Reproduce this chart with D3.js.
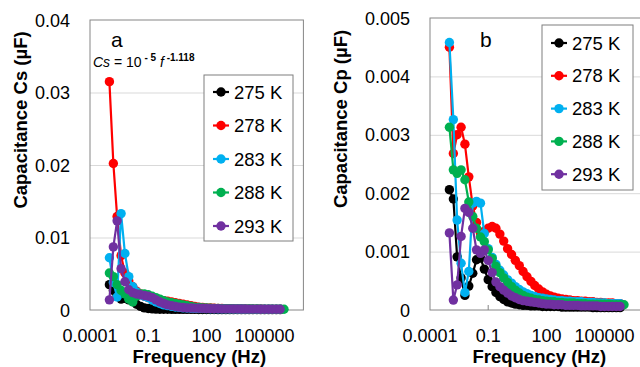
<!DOCTYPE html>
<html>
<head>
<meta charset="utf-8">
<script src="https://cdn.jsdelivr.net/npm/d3@7"></script>
<style>
  body { margin: 0; background: #fff; }
  svg text { font-family: "Liberation Sans", Arial, sans-serif; fill: #000; }
  .grid line { stroke: #d9d9d9; stroke-width: 1; }
  .grid .domain { display: none; }
</style>
</head>
<body>
<div id="chart"></div>
<script>
// measurement frequencies (Hz)
var freq = [0.001, 0.0016, 0.0025, 0.004, 0.0063, 0.01, 0.016, 0.025, 0.04, 0.063,
  0.1, 0.16, 0.25, 0.4, 0.63, 1, 1.6, 2.5, 4, 6.3,
  10, 16, 25, 40, 63, 100, 160, 250, 400, 630,
  1000, 1600, 2500, 4000, 6300, 10000, 16000, 25000, 40000, 63000,
  100000, 160000, 250000, 400000, 630000, 1000000];

var temps = ["275 K", "278 K", "283 K", "288 K", "293 K"];
var colors = ["#000000", "#ff0000", "#00b0f0", "#00b050", "#7030a0"];

var xTicks = [0.0001, 0.1, 100, 100000];
var xTickLabels = ["0.0001", "0.1", "100", "100000"];
var yTicksA = [0, 0.01, 0.02, 0.03, 0.04];
var yTickLabelsA = ["0", "0.01", "0.02", "0.03", "0.04"];
var yTicksB = [0, 0.001, 0.002, 0.003, 0.004, 0.005];
var yTickLabelsB = ["0", "0.001", "0.002", "0.003", "0.004", "0.005"];

// panel a : Cs (uF)
var cs275 = [0.0035, 0.0027, 0.002, 0.0015, 0.0016, 0.0014, 0.0012, 0.0008, 0.0005, 0.0003,
  0.0002, 0.00015, 0.00012, 0.0001, 0.0001, 0.0001, 0.00009, 0.00009, 0.00009, 0.00008,
  0.00008, 0.00008, 0.00008, 0.00007, 0.00007, 0.00007, 0.00007, 0.00007, 0.00006, 0.00006,
  0.00006, 0.00006, 0.00006, 0.00006, 0.00006, 0.00005, 0.00005, 0.00005, 0.00005, 0.00005,
  0.00005, 0.00005, 0.00005, 0.00005, 0.00005];
var cs278 = [0.0315, 0.0202, 0.0129, 0.0075, 0.0051, 0.004, 0.0032, 0.0026, 0.0022, 0.0019,
  0.0017, 0.00155, 0.0015, 0.0014, 0.0013, 0.0012, 0.0011, 0.001, 0.0009, 0.0008,
  0.0007, 0.0006, 0.0005, 0.0004, 0.00035, 0.0003, 0.00027, 0.00024, 0.00022, 0.0002,
  0.00019, 0.00018, 0.00017, 0.00016, 0.00015, 0.00015, 0.00014, 0.00014, 0.00013, 0.00013,
  0.00012, 0.00012, 0.00012, 0.00011, 0.00011];
var cs283 = [0.0072, 0.0038, 0.0018, 0.0133, 0.0078, 0.0046, 0.0032, 0.0025, 0.0021, 0.0019,
  0.0017, 0.0014, 0.0011, 0.0009, 0.0007, 0.0006, 0.0005, 0.00042, 0.00036, 0.0003,
  0.00027, 0.00025, 0.00023, 0.00021, 0.0002, 0.00019, 0.00018, 0.00017, 0.00016, 0.00015,
  0.00015, 0.00014, 0.00014, 0.00013, 0.00013, 0.00012, 0.00012, 0.00012, 0.00011, 0.00011,
  0.0001, 0.0001, 0.0001, 0.0001, 0.0001];
var cs288 = [0.0051, 0.0046, 0.0035, 0.0027, 0.0022, 0.0015, 0.0011, 0.0019, 0.0022, 0.0022,
  0.0021, 0.0019, 0.0017, 0.0015, 0.0013, 0.0011, 0.001, 0.0009, 0.0008, 0.0007,
  0.0006, 0.0005, 0.0004, 0.00035, 0.0003, 0.00027, 0.00024, 0.00022, 0.0002, 0.00019,
  0.00018, 0.00017, 0.00016, 0.00015, 0.00015, 0.00014, 0.00014, 0.00013, 0.00013, 0.00012,
  0.00012, 0.00012, 0.00011, 0.00011, 0.0001, 0.0001];
var cs293 = [0.0014, 0.0087, 0.0123, 0.0057, 0.0039, 0.0028, 0.0024, 0.0022, 0.0021, 0.002,
  0.0019, 0.0017, 0.0014, 0.0011, 0.0009, 0.0007, 0.0006, 0.0005, 0.0004, 0.00035,
  0.0003, 0.00028, 0.00026, 0.00024, 0.00022, 0.0002, 0.00019, 0.00018, 0.00017, 0.00016,
  0.00015, 0.00015, 0.00014, 0.00014, 0.00013, 0.00013, 0.00012, 0.00012, 0.00012, 0.00011,
  0.00011, 0.0001, 0.0001, 0.0001, 0.0001];

// panel b : Cp (uF)
var cp275 = [0.00206, 0.0019, 0.00091, 0.00055, 0.00025, 0.00041, 0.00063, 0.00086, 0.00089, 0.0007,
  0.00052, 0.0004, 0.0003, 0.00023, 0.00018, 0.00014, 0.00012, 0.0001, 0.00009, 0.00008,
  0.00008, 0.00007, 0.00007, 0.00007, 0.00006, 0.00006, 0.00006, 0.00006, 0.00006, 0.00005,
  0.00005, 0.00005, 0.00005, 0.00005, 0.00005, 0.00005, 0.00005, 0.00004, 0.00004, 0.00004,
  0.00004, 0.00004, 0.00004, 0.00004, 0.00004];
var cp278 = [0.0045, 0.00268, 0.003, 0.00313, 0.00284, 0.00228, 0.00178, 0.0015, 0.00131, 0.00135,
  0.0014, 0.00143, 0.0014, 0.0013, 0.00118, 0.00105, 0.00095, 0.00085, 0.00076, 0.00066,
  0.00057, 0.00049, 0.00042, 0.00036, 0.00031, 0.00027, 0.00024, 0.00022, 0.0002, 0.00019,
  0.00018, 0.00017, 0.00016, 0.00016, 0.00015, 0.00015, 0.00014, 0.00014, 0.00013, 0.00013,
  0.00012, 0.00012, 0.00012, 0.00011, 0.00011];
var cp283 = [0.00458, 0.00326, 0.00154, 0.0008, 0.0003, 0.00066, 0.00183, 0.00186, 0.00183, 0.00131,
  0.00105, 0.0009, 0.00078, 0.00068, 0.0006, 0.00052, 0.00046, 0.0004, 0.00035, 0.00031,
  0.00028, 0.00025, 0.00023, 0.00021, 0.0002, 0.00019, 0.00018, 0.00017, 0.00016, 0.00016,
  0.00015, 0.00015, 0.00014, 0.00014, 0.00014, 0.00013, 0.00013, 0.00013, 0.00012, 0.00012,
  0.00012, 0.00011, 0.00011, 0.00011, 0.00011];
var cp288 = [0.00313, 0.0024, 0.00234, 0.0024, 0.00223, 0.00185, 0.0016, 0.0014, 0.00125, 0.00117,
  0.00103, 0.00088, 0.00075, 0.00064, 0.00055, 0.00047, 0.0004, 0.00034, 0.00029, 0.00025,
  0.00022, 0.0002, 0.00018, 0.00017, 0.00016, 0.00015, 0.00014, 0.00014, 0.00013, 0.00013,
  0.00012, 0.00012, 0.00012, 0.00011, 0.00011, 0.00011, 0.0001, 0.0001, 0.0001, 0.0001,
  0.0001, 0.0001, 0.00009, 0.00009, 0.00009, 0.00009];
var cp293 = [0.00132, 0.00017, 0.00043, 0.00126, 0.00174, 0.00167, 0.0014, 0.00103, 0.00097, 0.00103,
  0.00085, 0.00064, 0.00048, 0.0004, 0.00034, 0.00029, 0.00024, 0.00021, 0.00018, 0.00016,
  0.00015, 0.00014, 0.00013, 0.00012, 0.00011, 0.0001, 0.0001, 0.00009, 0.00009, 0.00009,
  0.00008, 0.00008, 0.00008, 0.00008, 0.00007, 0.00007, 0.00007, 0.00007, 0.00007, 0.00006,
  0.00006, 0.00006, 0.00006, 0.00006, 0.00006];

var width = 640, height = 367,
markerR = 4.7;

var svg = d3.select("#chart").append("svg")
  .attr("width", width)
  .attr("height", height);

drawPanel({
  left: 90, right: 303.4, top: 20, bottom: 310,
  yMax: 0.04, yTicks: yTicksA, yLabels: yTickLabelsA,
  series: [cs275, cs278, cs283, cs288, cs293],
  yTitle: "Capacitance Cs (\u00b5F)", yTitleX: 26.5,
  letter: "a", letterX: 111,
  legend: { x: 204, y: 75, w: 89, h: 166, row0: 92, step: 33.5 }
});

drawPanel({
  left: 430, right: 643.4, top: 18, bottom: 310,
  yMax: 0.005, yTicks: yTicksB, yLabels: yTickLabelsB,
  series: [cp275, cp278, cp283, cp288, cp293],
  yTitle: "Capacitance Cp (\u00b5F)", yTitleX: 347,
  letter: "b", letterX: 480,
  legend: { x: 542, y: 25, w: 91, h: 165, row0: 43, step: 32.8 }
});

// fitted law on panel a
var eq = svg.append("text")
  .attr("x", 93)
  .attr("y", 66.5)
  .style("font-size", "14px");
eq.append("tspan").style("font-style", "italic").text("Cs");
eq.append("tspan").text(" = 10");
eq.append("tspan").attr("dy", -6).style("font-size", "10px").style("font-weight", "bold").text(" - 5");
eq.append("tspan").attr("dy", 6).text(" ");
eq.append("tspan").style("font-style", "italic").text("f");
eq.append("tspan").attr("dy", -6).style("font-size", "10px").style("font-weight", "bold").text(" -1.118");

function drawPanel(cfg) {
  var x = d3.scaleLog().domain([1e-4, 1e7]).range([cfg.left, cfg.right]);
  var y = d3.scaleLinear().domain([0, cfg.yMax]).range([cfg.bottom, cfg.top]);
  var w = cfg.right - cfg.left;

  var g = svg.append("g");

  // gridlines
  g.append("g")
    .attr("class", "grid")
    .attr("transform", "translate(" + cfg.left + ",0)")
    .call(d3.axisLeft(y).tickValues(cfg.yTicks.slice(1, -1)).tickSize(-w).tickFormat(""));

  // frame
  g.append("rect")
    .attr("x", cfg.left)
    .attr("y", cfg.top)
    .attr("width", w)
    .attr("height", cfg.bottom - cfg.top)
    .attr("fill", "none")
    .attr("stroke", "#868686")
    .attr("stroke-width", 1);

  // inside tick marks on the x axis
  g.selectAll(".xtick")
    .data(xTicks.slice(1))
    .enter().append("line")
    .attr("x1", function(d){ return x(d); })
    .attr("x2", function(d){ return x(d); })
    .attr("y1", cfg.bottom)
    .attr("y2", cfg.bottom - 5)
    .attr("stroke", "#868686");

  // tick labels
  g.selectAll(".ylab")
    .data(cfg.yTicks)
    .enter().append("text")
    .attr("x", cfg.left - 20)
    .attr("y", function(d){ return y(d) + 6.5; })
    .attr("text-anchor", "end")
    .style("font-size", "18px")
    .text(function(d, i){ return cfg.yLabels[i]; });

  g.selectAll(".xlab")
    .data(xTicks)
    .enter().append("text")
    .attr("x", function(d){ return x(d); })
    .attr("y", 341.5)
    .attr("text-anchor", "middle")
    .style("font-size", "18px")
    .text(function(d, i){ return xTickLabels[i]; });

  // axis titles
  g.append("text")
    .attr("transform", "translate(" + cfg.yTitleX + "," + ((cfg.top + cfg.bottom) / 2 - 45) + ") rotate(-90)")
    .attr("text-anchor", "middle")
    .style("font-size", "18.5px")
    .style("font-weight", "bold")
    .text(cfg.yTitle);

  g.append("text")
    .attr("x", (x(1e-4) + x(1e5)) / 2 + 22)
    .attr("y", 362.5)
    .attr("text-anchor", "middle")
    .style("font-size", "18.5px")
    .style("font-weight", "bold")
    .text("Frequency (Hz)");

  // series
  var line = d3.line()
    .x(function(d){ return x(d.f); })
    .y(function(d){ return y(d.v); });

  cfg.series.forEach(function(vals, s){
    var pts = vals.map(function(v, i){ return { f: freq[i], v: v }; });
    var sg = g.append("g").attr("class", "series");
    sg.append("path")
      .datum(pts)
      .attr("d", line)
      .attr("fill", "none")
      .attr("stroke", colors[s])
      .attr("stroke-width", 2.2);
    sg.selectAll("circle")
      .data(pts)
      .enter().append("circle")
      .attr("cx", function(d){ return x(d.f); })
      .attr("cy", function(d){ return y(d.v); })
      .attr("r", markerR)
      .attr("fill", colors[s]);
  });

  // panel letter
  g.append("text")
    .attr("x", cfg.letterX)
    .attr("y", 47)
    .style("font-size", "21px")
    .text(cfg.letter);

  // legend
  var lg = cfg.legend;
  var leg = g.append("g");
  leg.append("rect")
    .attr("x", lg.x)
    .attr("y", lg.y)
    .attr("width", lg.w)
    .attr("height", lg.h)
    .attr("fill", "#fff")
    .attr("stroke", "#7f7f7f");

  var rows = leg.selectAll(".row")
    .data(temps)
    .enter().append("g")
    .attr("transform", function(d, i){ return "translate(" + (lg.x + 17) + "," + (lg.row0 + i * lg.step) + ")"; });
  rows.append("line")
    .attr("x1", -8).attr("x2", 8)
    .attr("stroke", function(d, i){ return colors[i]; })
    .attr("stroke-width", 2.2);
  rows.append("circle")
    .attr("r", markerR)
    .attr("fill", function(d, i){ return colors[i]; });
  rows.append("text")
    .attr("x", 13)
    .attr("y", 6.5)
    .style("font-size", "18.5px")
    .text(function(d){ return d; });
}
</script>
</body>
</html>
